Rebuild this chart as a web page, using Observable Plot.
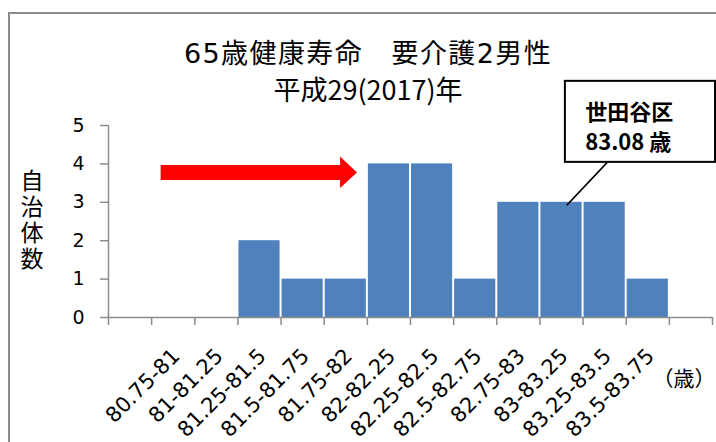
<!DOCTYPE html>
<html>
<head>
<meta charset="utf-8">
<script src="https://cdn.jsdelivr.net/npm/d3@7"></script>
<script src="https://cdn.jsdelivr.net/npm/@observablehq/plot@0.6"></script>
<style>
  body { margin: 0; background: #fff; }
  #wrap { position: relative; width: 716px; height: 442px; overflow: hidden; background: #fff; }
  #frame { position: absolute; left: 8px; top: 12px; width: 800px; height: 500px; border: 2px solid #8c8c8c; box-sizing: border-box; }
  #chart { position: absolute; left: 0; top: 0; }
  .ttl { position: absolute; left: 0; width: 736px; text-align: center; color: #000; white-space: pre; }
  #title { top: 39px; font-size: 27px; line-height: 30px; letter-spacing: 1.4px; font-family: "DejaVu Sans", "Noto Sans CJK JP", sans-serif; }
  #subtitle { top: 74px; font-size: 27px; line-height: 30px; font-family: "Noto Sans CJK JP", sans-serif; }
  #ylabel { position: absolute; left: 20px; top: 169px; writing-mode: vertical-rl; font-size: 23px; line-height: 23px; letter-spacing: 3px; font-family: "Noto Sans CJK JP", sans-serif; color: #000; }
  #chart g[aria-label="y-axis tick"], #chart g[aria-label="x-axis tick"] { stroke: #8c8c8c; stroke-width: 1.5; }
  #chart g[aria-label="y-axis"] line, #chart g[aria-label="x-axis"] line { stroke: #8c8c8c; stroke-width: 1.5; }
</style>
</head>
<body>
<div id="wrap">
  <div id="frame"></div>
  <div id="chart"></div>
  <div id="title" class="ttl"></div>
  <div id="subtitle" class="ttl"></div>
  <div id="ylabel"></div>
</div>
<script>
// ---- data ----
const categories = ["", "80.75-81", "81-81.25", "81.25-81.5", "81.5-81.75", "81.75-82", "82-82.25",
  "82.25-82.5", "82.5-82.75", "82.75-83", "83-83.25", "83.25-83.5", "83.5-83.75", ""];
const counts = [0, 0, 0, 2, 1, 1, 4, 4, 1, 3, 3, 3, 1, 0];
const titleText = "65歳健康寿命　要介護2男性";
const subtitleText = "平成29(2017)年";
const yLabel = "自治体数";
const xUnit = "（歳）";
const calloutLines = ["世田谷区", "83.08 歳"];

// ---- annotations (data units: x = bin index, y = count) ----
const arrowX = [1.22, 5.38, 5.38, 5.77];
const arrowLo = [3.57, 3.57, 3.36, 3.765];
const arrowHi = [3.96, 3.96, 4.18, 3.765];
const calloutBox = {x1: 10.59, x2: 14.07, y1: 4.04, y2: 6.15};
const calloutTextX = 11.05;
const calloutTextY = 4.995;
const leader = {x1: 11.56, y1: 4.04, x2: 10.62, y2: 2.92};

document.getElementById("title").textContent = titleText;
document.getElementById("subtitle").textContent = subtitleText;
document.getElementById("ylabel").textContent = yLabel;

const bins = categories.map((label, i) => ({i, label, count: counts[i]}));
const arrow = arrowX.map((x, k) => ({x, lo: arrowLo[k], hi: arrowHi[k]}));

const chart = Plot.plot({
  width: 716,
  height: 442,
  marginLeft: 108,
  marginRight: 4,
  marginTop: 125,
  marginBottom: 125,
  style: {background: "transparent", fontFamily: "DejaVu Sans", fontSize: "19px", color: "black", overflow: "visible"},
  x: {type: "linear", domain: [0, 14], ticks: 14, tickSize: 8, tickFormat: () => "", label: null},
  y: {domain: [0, 5], ticks: 5, tickSize: 8, tickPadding: 16, label: null},
  marks: [
    Plot.rectY(bins, {x1: "i", x2: d => d.i + 1, y: "count", fill: "#4f81bd", insetLeft: 1, insetRight: 1}),
    Plot.ruleY([0], {stroke: "#8c8c8c", strokeWidth: 1.5}),
    Plot.ruleX([0], {stroke: "#8c8c8c", strokeWidth: 1.5}),
    Plot.areaY(arrow, {x: "x", y1: "lo", y2: "hi", fill: "#ff0000"}),
    Plot.link([leader], {x1: "x1", y1: "y1", x2: "x2", y2: "y2", stroke: "black", strokeWidth: 1.5}),
    Plot.rect([calloutBox], {x1: "x1", x2: "x2", y1: "y1", y2: "y2", fill: "white", stroke: "black", strokeWidth: 2}),
    Plot.text([calloutLines.join("\n")], {x: [calloutTextX], y: [calloutTextY], text: d => d, textAnchor: "start", lineAnchor: "middle", lineHeight: 1.36, fontWeight: "bold", fontSize: 22, fontFamily: "Noto Sans CJK JP", fill: "black"}),
    Plot.text(bins, {x: d => d.i + 0.5, text: "label", frameAnchor: "bottom", rotate: -45, textAnchor: "end", lineAnchor: "middle", dx: 3, dy: 35, fontSize: 21, fill: "black"}),
    Plot.text([xUnit], {x: [14], text: d => d, frameAnchor: "bottom", textAnchor: "end", dx: 3, dy: 68, fontSize: 21, fontFamily: "Noto Sans CJK JP", fill: "black"})
  ]
});
document.getElementById("chart").appendChild(chart);
</script>
</body>
</html>
